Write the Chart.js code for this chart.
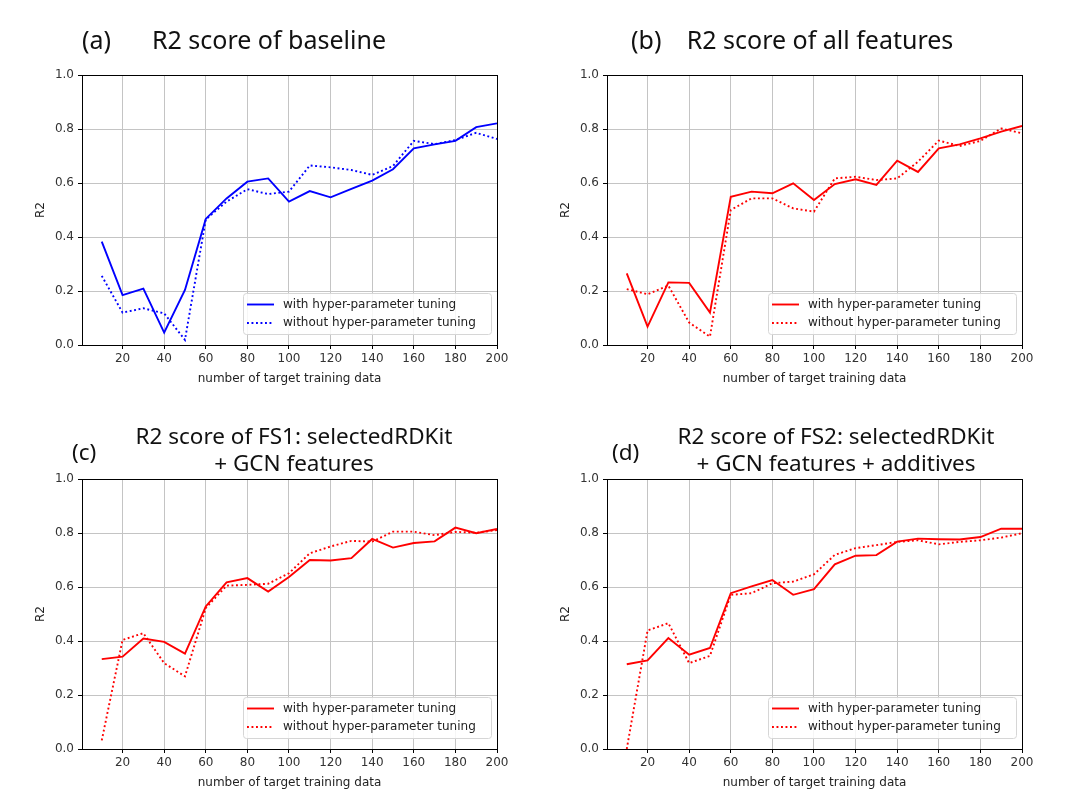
<!DOCTYPE html>
<html>
<head>
<meta charset="utf-8">
<script src="https://cdn.jsdelivr.net/npm/chart.js@4.4.1/dist/chart.umd.min.js"></script>
<style>
  body { margin: 0; background: #fff; width: 1080px; height: 810px; position: relative; overflow: hidden; }
  canvas { position: absolute; }
</style>
</head>
<body>
<canvas id="chartA" width="540" height="405" style="left:0px;top:0px"></canvas>
<canvas id="chartB" width="540" height="405" style="left:525px;top:0px"></canvas>
<canvas id="chartC" width="540" height="405" style="left:0px;top:404px"></canvas>
<canvas id="chartD" width="540" height="405" style="left:525px;top:404px"></canvas>
<script>
var trainSizes = [10, 20, 30, 40, 50, 60, 70, 80, 90, 100, 110, 120, 130, 140, 150, 160, 170, 180, 190, 200];
var xTicks = [20, 40, 60, 80, 100, 120, 140, 160, 180, 200];
var yTicks = [0, 0.2, 0.4, 0.6, 0.8, 1.0];
var legendLabels = ['with hyper-parameter tuning', 'without hyper-parameter tuning'];

// (a) baseline
var baselineTuned = [0.383, 0.185, 0.209, 0.046, 0.204, 0.467, 0.543, 0.605, 0.617, 0.531,
                     0.570, 0.547, 0.578, 0.609, 0.651, 0.728, 0.743, 0.756, 0.807, 0.821];
var baselineUntuned = [0.256, 0.120, 0.136, 0.117, 0.019, 0.465, 0.531, 0.577, 0.559, 0.568,
                       0.665, 0.658, 0.648, 0.630, 0.663, 0.756, 0.744, 0.759, 0.786, 0.763];
// (b) all features
var allTuned = [0.265, 0.068, 0.232, 0.230, 0.120, 0.549, 0.568, 0.562, 0.599, 0.537,
                0.596, 0.614, 0.593, 0.683, 0.641, 0.728, 0.743, 0.765, 0.790, 0.811];
var allUntuned = [0.207, 0.188, 0.220, 0.083, 0.031, 0.500, 0.543, 0.543, 0.506, 0.494,
                  0.617, 0.623, 0.611, 0.617, 0.679, 0.757, 0.737, 0.756, 0.802, 0.784];
// (c) FS1
var fs1Tuned = [0.333, 0.342, 0.409, 0.397, 0.353, 0.528, 0.617, 0.633, 0.583, 0.637,
                0.700, 0.698, 0.707, 0.778, 0.746, 0.763, 0.769, 0.820, 0.799, 0.815];
var fs1Untuned = [0.032, 0.404, 0.429, 0.318, 0.269, 0.522, 0.605, 0.608, 0.612, 0.651,
                  0.725, 0.750, 0.771, 0.768, 0.805, 0.805, 0.792, 0.804, 0.801, 0.811];
// (d) FS2
var fs2Tuned = [0.314, 0.328, 0.411, 0.349, 0.374, 0.577, 0.602, 0.626, 0.571, 0.592,
                0.684, 0.716, 0.718, 0.768, 0.779, 0.777, 0.776, 0.785, 0.816, 0.816];
var fs2Untuned = [0.000, 0.439, 0.466, 0.318, 0.345, 0.571, 0.577, 0.614, 0.620, 0.647,
                  0.719, 0.744, 0.755, 0.767, 0.773, 0.758, 0.767, 0.773, 0.783, 0.799];

var smallFont = { family: 'DejaVu Sans', size: 12 };

function points(values) {
  return trainSizes.map(function (x, i) { return { x: x, y: values[i] }; });
}

// frame, legend box and panel titles, matplotlib style
var panelPlugin = {
  id: 'panel',
  afterDatasetsDraw: function (chart) {
    var ctx = chart.ctx;
    var a = chart.chartArea;
    ctx.save();
    ctx.strokeStyle = '#000';
    ctx.lineWidth = 1;
    ctx.strokeRect(Math.round(a.left) + 0.5, Math.round(a.top) + 0.5,
                   Math.round(a.right - a.left), Math.round(a.bottom - a.top));

    // legend
    var w = 248, h = 41;
    var bx = a.right - 6 - w, by = a.bottom - 11 - h;
    ctx.beginPath();
    ctx.roundRect(bx + 0.5, by + 0.5, w, h, 3);
    ctx.fillStyle = 'rgba(255,255,255,0.85)';
    ctx.fill();
    ctx.strokeStyle = '#d6d6d6';
    ctx.stroke();
    ctx.font = '12px "DejaVu Sans"';
    ctx.textBaseline = 'middle';
    chart.data.datasets.forEach(function (ds, i) {
      var y = by + 11.5 + i * 18.5;
      ctx.beginPath();
      ctx.setLineDash(ds.borderDash || []);
      ctx.lineWidth = ds.borderWidth;
      ctx.strokeStyle = ds.borderColor;
      ctx.moveTo(bx + 4, y);
      ctx.lineTo(bx + 31, y);
      ctx.stroke();
      ctx.setLineDash([]);
      ctx.fillStyle = '#222';
      ctx.fillText(ds.label, bx + 40, y);
    });
    ctx.restore();
  },
  afterDraw: function (chart) {
    var o = chart.options.plugins.panel;
    var ctx = chart.ctx;
    ctx.save();
    ctx.fillStyle = '#111';
    ctx.font = o.fontSize + 'px "Noto Sans"';
    ctx.textBaseline = 'alphabetic';
    ctx.textAlign = 'left';
    ctx.fillText(o.tag, o.tagX, o.tagY);
    ctx.textAlign = 'center';
    o.lines.forEach(function (line, i) {
      ctx.fillText(line, o.titleX, o.titleY[i]);
    });
    ctx.restore();
  }
};

function makeChart(id, color, tuned, untuned, panel) {
  return new Chart(document.getElementById(id).getContext('2d'), {
    type: 'line',
    data: {
      datasets: [{
        label: legendLabels[0],
        data: points(tuned),
        borderColor: color,
        borderWidth: 1.9,
        pointRadius: 0,
        tension: 0
      }, {
        label: legendLabels[1],
        data: points(untuned),
        borderColor: color,
        borderWidth: 1.9,
        borderDash: [1.9, 2.6],
        pointRadius: 0,
        tension: 0
      }]
    },
    options: {
      responsive: false,
      animation: false,
      layout: { padding: { left: 30, right: 43, top: 75, bottom: 0 } },
      plugins: {
        legend: { display: false },
        tooltip: { enabled: false },
        panel: panel
      },
      scales: {
        x: {
          type: 'linear',
          min: 0.5,
          max: 200,
          afterBuildTicks: function (axis) {
            axis.ticks = xTicks.map(function (v) { return { value: v }; });
          },
          afterFit: function (axis) { axis.height = 60; },
          grid: { color: '#c4c4c4', lineWidth: 1, tickColor: '#000', tickLength: 4 },
          border: { display: false },
          ticks: { color: '#333', font: smallFont, padding: 3, maxRotation: 0 },
          title: { display: true, text: 'number of target training data', color: '#222',
                   font: smallFont, padding: { top: 0, bottom: 19 } }
        },
        y: {
          min: 0,
          max: 1,
          afterBuildTicks: function (axis) {
            axis.ticks = yTicks.map(function (v) { return { value: v }; });
          },
          afterFit: function (axis) { axis.width = 52; },
          grid: { color: '#c4c4c4', lineWidth: 1, tickColor: '#000', tickLength: 4 },
          border: { display: false },
          ticks: { color: '#333', font: smallFont, padding: 4,
                   callback: function (v) { return v.toFixed(1); } },
          title: { display: true, text: 'R2', color: '#222', font: smallFont,
                   padding: { top: 4, bottom: 4 } }
        }
      }
    },
    plugins: [panelPlugin]
  });
}

var chartA = makeChart('chartA', '#0000ff', baselineTuned, baselineUntuned,
  { tag: '(a)', tagX: 82, tagY: 49, fontSize: 25, lines: ['R2 score of baseline'],
    titleX: 269, titleY: [49] });
var chartB = makeChart('chartB', '#ff0000', allTuned, allUntuned,
  { tag: '(b)', tagX: 106, tagY: 49, fontSize: 25, lines: ['R2 score of all features'],
    titleX: 295, titleY: [49] });
var chartC = makeChart('chartC', '#ff0000', fs1Tuned, fs1Untuned,
  { tag: '(c)', tagX: 72, tagY: 56, fontSize: 22.5, lines: ['R2 score of FS1: selectedRDKit', '+ GCN features'],
    titleX: 294, titleY: [40, 67] });
var chartD = makeChart('chartD', '#ff0000', fs2Tuned, fs2Untuned,
  { tag: '(d)', tagX: 87, tagY: 56, fontSize: 22.5, lines: ['R2 score of FS2: selectedRDKit', '+ GCN features + additives'],
    titleX: 311, titleY: [40, 67] });
</script>
</body>
</html>
